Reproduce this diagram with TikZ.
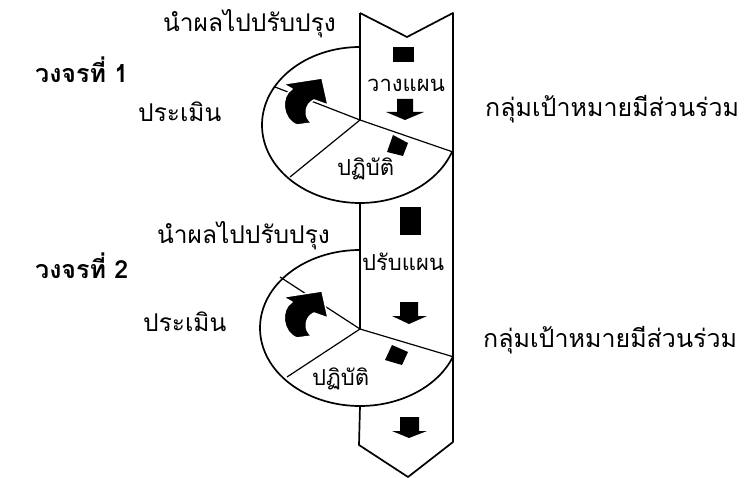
\documentclass[tikz,border=0pt]{standalone}
\usepackage{fontspec}
\newfontfamily\thaifont[Script=Thai]{Loma}
\begin{document}
\begin{tikzpicture}[x=1pt,y=-1pt,
  outline/.style={line width=1.7pt,line join=round},
  sector/.style={line width=1.2pt},
  lbl/.style={anchor=base west,inner sep=0pt,font=\thaifont\fontsize{24.5}{24.5}\selectfont},
  grplbl/.style={anchor=base west,inner sep=0pt,font=\thaifont\fontsize{25}{25}\selectfont},
  bandlbl/.style={anchor=base west,inner sep=0pt,font=\thaifont\fontsize{22}{22}\selectfont},
  title/.style={anchor=base west,inner sep=0pt,font=\thaifont\bfseries\fontsize{25}{25}\selectfont},
  blk/.style={fill=black,draw=none},
  curvarrow/.style={fill=black,draw=white,line width=1.5pt,line join=round}
]
\useasboundingbox (0,0) rectangle (751,478);
% band corners
\coordinate (tl) at (360,13);
\coordinate (tv) at (407,37);
\coordinate (tr) at (453,13);
\coordinate (bl) at (359,445);
\coordinate (bv) at (408,477);
\coordinate (br) at (453,442);
% centres
\coordinate (c1) at (360,120);
\coordinate (c2) at (360,329);
\coordinate (e1top) at (360,47);
\coordinate (e2top) at (360,250);
\coordinate (e1bot) at (360,203);
\coordinate (e2bot) at (360,406);
% band outline
\draw[outline] (tl) -- (tv) -- (tr) -- (br) -- (bv) -- (bl) -- (e2bot);
\draw[outline] (tl) -- (c1);
\draw[outline] (e1bot) -- (c2);
% ellipses
\draw[outline] (e1top) arc[start angle=270,end angle=20,x radius=98,y radius=78] coordinate (e1r);
\draw[outline] (e2top) arc[start angle=270,end angle=21.6,x radius=100,y radius=78] coordinate (e2r);
% sector lines
\coordinate (s1a) at (275,87);
\coordinate (s1b) at (290,177);
\coordinate (s2a) at (280,277);
\coordinate (s2b) at (287,377);
\draw[sector] (c1) -- (s1a);
\draw[sector] (c1) -- (s1b);
\draw[sector] (c1) -- (e1r);
\draw[sector] (c2) -- (s2a);
\draw[sector] (c2) -- (s2b);
\draw[sector] (c2) -- (e2r);
% curved arrows
\foreach \cc/\dy in {c1/0,c2/4}{
  \draw[curvarrow,shift={(\cc)},yshift=-\dy pt]
    (-77,-36) -- (-38,-42) -- (-32,-15) -- (-46,-20)
    .. controls (-55,-16) and (-57,-3) .. (-48,3)
    -- (-63,5)
    .. controls (-78,0) and (-80,-24) .. (-68,-31) -- cycle;
}
% band 1 symbols
\fill[blk] (393,47) rectangle (414,62);
\fill[blk] (397,99) -- (413,99) -- (413,112) -- (424,112) -- (405,120) -- (386,112) -- (397,112) -- cycle;
\fill[blk] (393,135) -- (408,143) -- (403,156) -- (387,152) -- cycle;
% band 2 symbols
\fill[blk] (400,207) rectangle (421,235);
\fill[blk] (400,302) -- (418,302) -- (418,316) -- (427,316) -- (409,324) -- (392,316) -- (400,316) -- cycle;
\fill[blk] (392,345) -- (408,352) -- (402,365) -- (385,360) -- cycle;
\fill[blk] (400,417) -- (419,417) -- (419,431) -- (427,431) -- (409,438) -- (392,431) -- (400,431) -- cycle;
% labels
\node[lbl] (imp1) at (163,32) {นำผลไปปรับปรุง};
\node[title] (cyc1) at (35,83) {วงจรที่ 1};
\node[lbl] (ev1) at (138,122) {ประเมิน};
\node[bandlbl] (plan) at (367,92) {วางแผน};
\node[bandlbl] (act1) at (337,176) {ปฏิบัติ};
\node[grplbl] (grp1) at (485,117) {กลุ่มเป้าหมายมีส่วนร่วม};
\node[lbl] (imp2) at (157,243) {นำผลไปปรับปรุง};
\node[title] (cyc2) at (35,278) {วงจรที่ 2};
\node[lbl] (ev2) at (143,331) {ประเมิน};
\node[bandlbl] (replan) at (362,270) {ปรับแผน};
\node[bandlbl] (act2) at (312,385) {ปฏิบัติ};
\node[grplbl] (grp2) at (483,347) {กลุ่มเป้าหมายมีส่วนร่วม};
\end{tikzpicture}
\end{document}
